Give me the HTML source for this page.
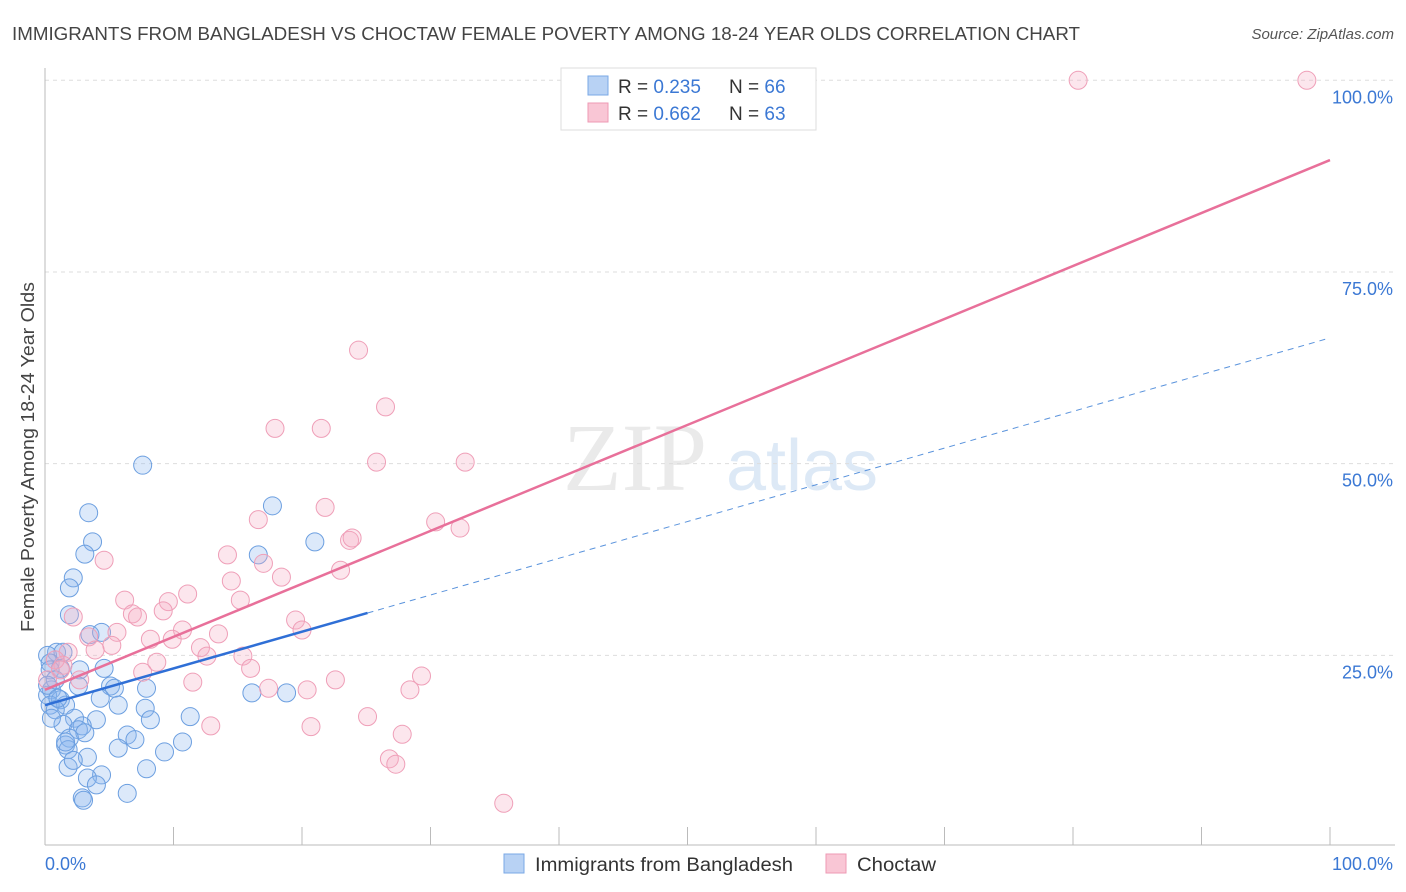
<!DOCTYPE html>
<html><head><meta charset="utf-8"><style>
body{margin:0;background:#fff;font-family:"Liberation Sans",sans-serif}
</style></head><body>
<svg id="c" width="1406" height="892" xmlns="http://www.w3.org/2000/svg" style="display:block">
<text x="12" y="40" font-size="18" fill="#444" textLength="1068" lengthAdjust="spacingAndGlyphs">IMMIGRANTS FROM BANGLADESH VS CHOCTAW FEMALE POVERTY AMONG 18-24 YEAR OLDS CORRELATION CHART</text>
<text x="1394" y="39" font-size="15" fill="#555" text-anchor="end" font-style="italic">Source: ZipAtlas.com</text>
<text transform="translate(34,457) rotate(-90)" font-size="18" fill="#444" text-anchor="middle" textLength="350" lengthAdjust="spacingAndGlyphs">Female Poverty Among 18-24 Year Olds</text>
<g><text x="635" y="490" font-size="96" fill="#ddd" font-family="Liberation Serif" text-anchor="middle" opacity="0.6">ZIP</text><text x="802" y="490" font-size="72" fill="#cfe0f3" text-anchor="middle" opacity="0.7">atlas</text></g>
<g id="grid"></g><g id="axes"></g><g id="pts"></g><g id="lines"></g>
<g>
<rect x="561" y="68" width="255" height="62" fill="#fff" stroke="#ddd"/>
<rect x="588" y="76" width="20" height="19" fill="#b8d2f4" stroke="#7aa8e6"/>
<text x="618" y="93" font-size="19" fill="#333">R = <tspan fill="#3b78d4">0.235</tspan></text>
<text x="729" y="93" font-size="19" fill="#333">N = <tspan fill="#3b78d4">66</tspan></text>
<rect x="588" y="103" width="20" height="19" fill="#f9c6d5" stroke="#ee9ab4"/>
<text x="618" y="120" font-size="19" fill="#333">R = <tspan fill="#3b78d4">0.662</tspan></text>
<text x="729" y="120" font-size="19" fill="#333">N = <tspan fill="#3b78d4">63</tspan></text>
</g>
<g>
<rect x="504" y="854" width="20" height="19" fill="#b8d2f4" stroke="#7aa8e6"/>
<text x="535" y="871" font-size="19" fill="#333" textLength="258" lengthAdjust="spacingAndGlyphs">Immigrants from Bangladesh</text>
<rect x="826" y="854" width="20" height="19" fill="#f9c6d5" stroke="#ee9ab4"/>
<text x="857" y="871" font-size="19" fill="#333" textLength="79" lengthAdjust="spacingAndGlyphs">Choctaw</text>
</g>
</svg>
<script>
const blueX=[7.6,17.7,3.4,3.7,3.1,16.6,21.0,2.2,1.9,1.9,3.5,4.4,0.9,0.2,1.4,0.4,1.2,2.7,4.6,5.1,5.4,7.9,0.5,0.2,2.6,16.1,18.8,4.3,5.7,7.8,1.2,1.6,0.4,0.8,2.3,4.0,8.2,11.3,1.4,2.9,2.6,3.1,6.4,7.0,1.9,1.6,1.8,5.7,9.3,10.7,3.3,1.8,7.9,4.4,3.3,4.0,6.4,2.9,3.0,0.4,0.8,0.2,1.0,0.5,1.6,2.2];
const blueY=[49.8,44.5,43.6,39.8,38.2,38.1,39.8,35.1,33.8,30.3,27.7,28.0,25.4,25.0,25.4,24.0,23.3,23.1,23.3,21.0,20.7,20.7,20.5,19.8,21.0,20.1,20.1,19.4,18.5,18.1,19.2,18.5,18.5,17.9,16.8,16.6,16.6,17.0,16.0,15.8,15.3,14.9,14.6,14.0,14.2,13.3,12.7,12.9,12.4,13.7,11.7,10.4,10.2,9.4,9.0,8.1,7.0,6.4,6.1,23.1,21.8,21.1,19.4,16.8,13.7,11.3];
const pinkX=[80.4,98.2,24.4,26.5,17.9,21.5,25.8,32.7,21.8,16.6,30.4,32.3,23.7,23.9,14.2,4.6,17.0,14.5,18.4,23.0,11.1,6.2,15.2,9.6,6.8,7.2,9.2,2.2,19.5,20.0,10.7,5.6,13.5,8.2,9.9,3.4,5.2,3.9,12.1,12.6,1.8,15.4,8.7,16.0,1.4,7.6,11.5,2.7,22.6,29.3,17.4,20.4,28.4,25.1,20.7,12.9,27.8,26.8,27.3,35.7,0.8,1.2,0.2];
const pinkY=[100,100,64.8,57.4,54.6,54.6,50.2,50.2,44.3,42.7,42.4,41.6,40.0,40.3,38.1,37.4,37.0,34.7,35.2,36.1,33.0,32.2,32.2,32.0,30.4,30.0,30.8,30.0,29.6,28.3,28.3,28.0,27.8,27.1,27.1,27.4,26.3,25.7,26.0,24.9,25.4,24.9,24.1,23.3,23.7,22.8,21.5,21.8,21.8,22.3,20.7,20.5,20.5,17.0,15.7,15.8,14.7,11.5,10.8,5.7,24.4,23.1,21.8];
const blueLine=[18.5,66.4], blueSolidEnd=25.1;
const pinkLine=[20.5,89.6];
const yTicks=[25,50,75,100];
const xTicks=[0,10,20,30,40,50,60,70,80,90,100];
const NS='http://www.w3.org/2000/svg';
const sx=v=>45+v*12.85, sy=v=>847-v*7.667;
function mk(tag,attrs,parent){const e=document.createElementNS(NS,tag);for(const k in attrs)e.setAttribute(k,attrs[k]);parent.appendChild(e);return e;}
const grid=document.getElementById('grid'),axes=document.getElementById('axes'),pts=document.getElementById('pts'),lines=document.getElementById('lines');
yTicks.forEach(t=>{
 const l=mk('line',{x1:45,x2:1395,y1:sy(t),y2:sy(t),stroke:'#ddd','stroke-dasharray':'4,4'},grid);
 
 
 const tx=mk('text',{x:1393,y:sy(t)+23,'font-size':18,fill:'#3b78d4','text-anchor':'end'},axes);
 tx.textContent=t.toFixed(1)+'%';
 
 
});
let a=mk('line',{x1:45,x2:45,y1:68,y2:845,stroke:'#bbb'},axes);


a=mk('line',{x1:45,x2:1395,y1:845,y2:845,stroke:'#bbb'},axes);


xTicks.forEach(t=>{
 const l=mk('line',{x1:sx(t),x2:sx(t),y1:827,y2:845,stroke:'#bbb'},axes);
 
 
});
[[0,'0.0%','start',45],[100,'100.0%','end',1393]].forEach(([v,s,an,x])=>{
 const tx=mk('text',{x:x,y:870,'font-size':18,fill:'#3b78d4','text-anchor':an},axes);
 tx.textContent=s;
 
 
});
function dots(X,Y,fill,stroke,name){X.forEach((x,i)=>{
 const c=mk('circle',{cx:sx(x),cy:sy(Y[i]),r:9,fill:fill,stroke:stroke,'stroke-width':1},pts);
 
 
});}
dots(blueX,blueY,'rgba(140,182,238,0.3)','#6c9fe0','bangladesh-point');
dots(pinkX,pinkY,'rgba(246,172,196,0.3)','#ef9fb8','choctaw-point');
const by=x=>blueLine[0]+(blueLine[1]-blueLine[0])*x/100;
let l=mk('line',{x1:sx(0),y1:sy(by(0)),x2:sx(blueSolidEnd),y2:sy(by(blueSolidEnd)),stroke:'#2f6fd6','stroke-width':2.5},lines);


l=mk('line',{x1:sx(blueSolidEnd),y1:sy(by(blueSolidEnd)),x2:sx(100),y2:sy(by(100)),stroke:'#5a93dc','stroke-width':1,'stroke-dasharray':'6,5'},lines);


l=mk('line',{x1:sx(0),y1:sy(pinkLine[0]),x2:sx(100),y2:sy(pinkLine[1]),stroke:'#e8709a','stroke-width':2.5},lines);


</script>
</body></html>
